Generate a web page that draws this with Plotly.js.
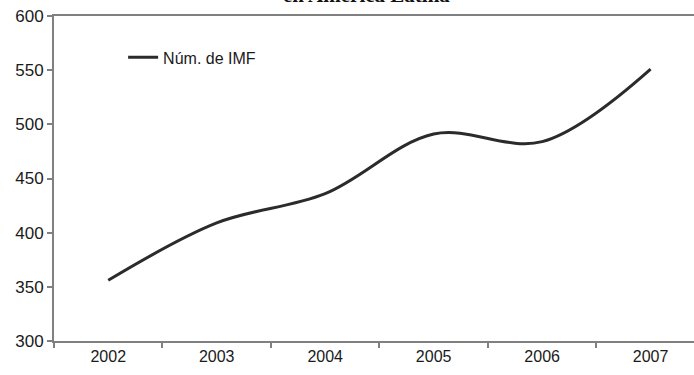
<!DOCTYPE html>
<html>
<head>
<meta charset="utf-8">
<script src="https://cdn.plot.ly/plotly-3.0.1.min.js"></script>
<style>html,body{margin:0;padding:0;background:#fff;}#chart{width:694px;height:375px;}</style>
</head>
<body>
<div id="chart"></div>
<script>
const years = ["2002", "2003", "2004", "2005", "2006", "2007"];
const numIMF = [356, 409, 436, 491, 484, 551];
const seriesName = "Núm. de IMF";
const titleText = "en América Latina";

const trace = {
  x: years,
  y: numIMF,
  type: "scatter",
  mode: "lines",
  name: seriesName,
  line: {color: "#2b2b2b", width: 3, shape: "spline", smoothing: 1}
};

const layout = {
  width: 694,
  height: 375,
  margin: {l: 54, r: 0, t: 16, b: 34, pad: 0},
  paper_bgcolor: "#fff",
  plot_bgcolor: "#fff",
  font: {family: "Liberation Sans, Arial, sans-serif", size: 16, color: "#222"},
  showlegend: true,
  legend: {x: 0.108, y: 0.925, xanchor: "left", yanchor: "top", bgcolor: "rgba(0,0,0,0)", font: {size: 16, color: "#1a1a1a"}},
  xaxis: {
    type: "category",
    range: [-0.5, 5.4],
    tickson: "boundaries",
    ticks: "outside",
    ticklen: 5,
    tickcolor: "#808080",
    tickwidth: 2,
    showline: true,
    linecolor: "#808080",
    linewidth: 2,
    mirror: true,
    showgrid: false,
    zeroline: false,
    tickfont: {size: 16, color: "#1a1a1a"}
  },
  yaxis: {
    range: [300, 600],
    dtick: 50,
    ticks: "outside",
    ticklen: 5,
    tickcolor: "#808080",
    tickwidth: 2,
    showline: true,
    linecolor: "#808080",
    linewidth: 2,
    showgrid: false,
    zeroline: false,
    tickfont: {size: 17, color: "#1a1a1a"}
  },
  annotations: [{
    text: "<b>" + titleText + "</b>",
    xref: "paper", yref: "paper",
    x: 0.489, y: 1,
    xanchor: "center", yanchor: "bottom",
    yshift: 7,
    showarrow: false,
    font: {family: "Liberation Serif, Times New Roman, serif", size: 21, color: "#111"}
  }]
};

Plotly.newPlot("chart", [trace], layout, {displayModeBar: false, staticPlot: true});
</script>
</body>
</html>
